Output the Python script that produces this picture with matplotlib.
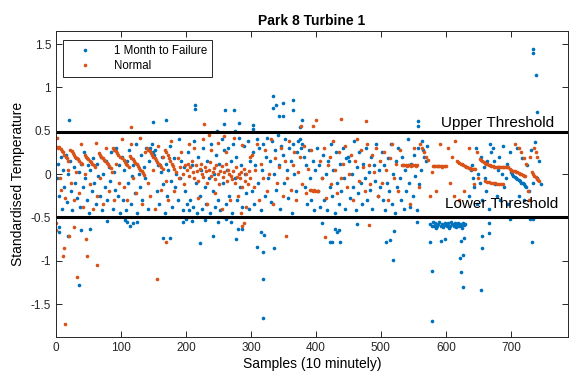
import matplotlib
matplotlib.use('Agg')
import matplotlib.pyplot as plt
import numpy as np

plt.rcParams['font.family'] = ['Liberation Sans', 'DejaVu Sans']

# Park 8 Turbine 1 - standardised temperature
# (sample index, value) pairs

# ---- "1 Month to Failure" (blue) ----
fail_0_100 = [(1, -0.05), (3, 0.12), (5, -0.25), (7, 0.2), (9, -0.4), (11, 0.05), (13, -0.15), (15, 0.22),
              (17, -0.32), (19, 0.0), (21, 0.15), (23, -0.2), (25, -0.42), (27, 0.08), (29, -0.1), (31, 0.18),
              (33, -0.28), (35, 0.02), (37, -0.38), (39, 0.12), (41, -0.15), (43, 0.25), (45, -0.05), (47, -0.3),
              (49, 0.1), (51, -0.45), (53, 0.05), (55, -0.2), (57, 0.18), (59, -0.1), (61, -0.35), (63, 0.12),
              (65, -0.02), (67, -0.25), (69, 0.2), (71, -0.42), (73, 0.0), (75, -0.15), (77, 0.15), (79, -0.3),
              (81, 0.08), (83, -0.08), (85, 0.25), (87, -0.4), (89, 0.02), (91, -0.18), (93, 0.3), (95, -0.25),
              (97, 0.1), (99, -0.45)]
fail_100_200 = [(101, 0.2), (103, -0.3), (105, 0.05), (107, -0.42), (109, 0.15), (111, -0.1), (113, 0.28),
                (115, -0.35), (117, -0.02), (119, 0.1), (121, -0.22), (123, 0.35), (125, -0.45), (127, 0.0),
                (129, -0.15), (131, 0.22), (133, -0.3), (135, 0.08), (137, -0.05), (139, 0.3), (141, -0.4),
                (143, 0.15), (145, 0.3), (147, 0.35), (149, 0.25), (151, 0.22), (153, 0.28), (155, -0.2),
                (157, 0.1), (159, -0.35), (161, 0.02), (163, 0.2), (165, -0.12), (167, -0.45), (169, 0.12),
                (171, -0.25), (173, 0.05), (175, 0.32), (177, -0.08), (179, -0.38), (181, 0.18), (183, -0.15),
                (185, 0.0), (187, -0.3), (189, 0.4), (191, -0.05), (193, 0.15), (195, -0.42), (197, 0.08),
                (199, -0.2)]
fail_200_300 = [(201, -0.35), (203, 0.25), (205, -0.42), (207, -0.3), (209, 0.1), (211, -0.38), (213, 0.38),
                (215, -0.1), (217, -0.45), (219, 0.2), (221, -0.25), (223, 0.05), (225, -0.4), (227, 0.3),
                (229, -0.15), (231, -0.35), (233, 0.15), (235, -0.05), (237, -0.45), (239, 0.35), (241, -0.2),
                (243, 0.0), (245, -0.38), (247, 0.22), (249, -0.3), (251, 0.12), (253, -0.42), (255, 0.4),
                (257, -0.1), (259, 0.28), (261, -0.35), (263, 0.05), (265, 0.3), (267, -0.25), (269, 0.15),
                (271, -0.45), (273, 0.35), (275, -0.05), (277, 0.2), (279, -0.3), (281, 0.42), (283, -0.15),
                (285, 0.1), (287, -0.38), (289, 0.32), (291, 0.0), (293, -0.22), (295, 0.38), (297, -0.4),
                (299, 0.15)]
fail_300_400 = [(301, -0.2), (303, 0.25), (305, -0.35), (307, 0.1), (309, 0.4), (311, -0.1), (313, 0.3),
                (315, -0.42), (317, 0.05), (319, 0.35), (321, -0.25), (323, 0.2), (325, 0.42), (327, -0.05),
                (329, 0.15), (331, -0.32), (333, 0.38), (335, 0.0), (337, 0.28), (339, -0.18), (341, 0.45),
                (343, 0.1), (345, -0.4), (347, 0.32), (349, 0.22), (351, -0.1), (353, 0.4), (355, 0.05),
                (357, -0.28), (359, 0.3), (361, 0.15), (363, -0.45), (365, 0.35), (367, 0.0), (369, -0.2),
                (371, 0.25), (373, 0.38), (375, 0.4), (377, 0.3), (379, 0.35), (381, 0.2), (383, -0.15),
                (385, 0.1), (387, -0.35), (389, 0.28), (391, -0.05), (393, -0.3), (395, 0.15), (397, -0.42),
                (399, 0.05)]
fail_400_500 = [(401, 0.3), (403, -0.2), (405, 0.1), (407, -0.38), (409, -0.05), (411, 0.22), (413, -0.3),
                (415, 0.0), (417, -0.42), (419, 0.15), (421, -0.15), (423, 0.35), (425, -0.25), (427, 0.05),
                (429, -0.45), (431, 0.25), (433, -0.1), (435, -0.35), (437, 0.12), (439, -0.2), (441, 0.3),
                (443, -0.05), (445, -0.4), (447, 0.18), (449, 0.2), (451, 0.15), (453, -0.28), (455, 0.0),
                (457, -0.15), (459, 0.38), (461, -0.42), (463, 0.08), (465, -0.22), (467, 0.25), (469, -0.1),
                (471, -0.35), (473, 0.12), (475, -0.05), (477, 0.3), (479, -0.3), (481, 0.02), (483, -0.18),
                (485, 0.2), (487, -0.4), (489, 0.1), (491, -0.08), (493, 0.35), (495, -0.25), (497, 0.05),
                (499, -0.15)]
fail_500_640 = [(501, 0.25), (503, -0.3), (505, 0.1), (507, -0.42), (509, -0.1), (511, 0.18), (513, -0.2),
                (515, 0.35), (517, -0.35), (519, 0.0), (521, -0.45), (523, 0.15), (525, -0.15), (527, 0.3),
                (529, -0.05), (531, -0.3), (533, 0.2), (535, -0.4), (537, 0.05), (539, -0.2), (541, 0.4),
                (543, -0.1), (545, -0.38), (547, 0.12), (549, -0.25), (551, 0.22), (553, -0.02), (555, -0.42),
                (557, 0.3), (559, -0.12), (561, 0.05), (563, 0.38), (565, 0.28), (567, 0.2), (569, 0.15),
                (571, 0.32), (576, -0.58), (578, -0.6), (580, -0.55), (582, -0.6), (584, -0.57), (586, -0.6),
                (588, -0.58), (590, -0.55), (592, -0.6), (594, -0.58), (596, -0.6), (598, -0.56), (600, -0.59),
                (602, -0.6), (604, -0.57), (606, -0.6), (608, -0.55), (610, -0.58), (612, -0.6), (614, -0.57),
                (616, -0.59), (618, -0.56), (620, -0.6), (622, -0.58), (624, -0.6), (626, -0.57), (628, -0.59),
                (630, -0.58), (585, -0.62), (595, -0.61), (605, -0.62), (615, -0.61), (625, -0.62)]
fail_640_750 = [(636, -0.25), (638, 0.05), (640, 0.1), (642, -0.05), (644, -0.15), (646, 0.3), (648, -0.35),
                (650, 0.0), (652, -0.1), (654, 0.2), (656, -0.3), (658, 0.08), (660, -0.05), (662, -0.2),
                (664, 0.15), (666, -0.4), (668, 0.35), (670, 0.25), (672, 0.3), (674, 0.15), (676, -0.12),
                (678, -0.25), (680, 0.05), (682, 0.2), (684, -0.3), (686, 0.0), (688, 0.32), (690, -0.15),
                (692, -0.05), (694, 0.12), (696, -0.35), (698, 0.25), (700, 0.02), (702, 0.0), (704, -0.02),
                (706, -0.03), (708, -0.05), (710, -0.06), (712, -0.07), (714, -0.08), (716, -0.1), (718, -0.1),
                (720, -0.12), (722, -0.14), (724, -0.15), (709, 0.3), (713, -0.25), (717, 0.18), (721, -0.3),
                (725, 0.1), (728, -0.2), (731, 0.28), (734, -0.1), (737, 0.37), (740, -0.05), (743, 0.15),
                (746, -0.12)]
fail_above = [(20, 0.62), (149, 0.60), (169, 0.62), (214, 0.80), (214, 0.75), (248, 0.50), (259, 0.58),
              (260, 0.74), (274, 0.74), (276, 0.50), (282, 0.59), (303, 0.56), (303, 0.52), (334, 0.90),
              (339, 0.80), (349, 0.82), (334, 0.76), (365, 0.85), (365, 0.74), (343, 0.67), (349, 0.67),
              (378, 0.62), (375, 0.54), (557, 0.61), (557, 0.55), (734, 1.44), (734, 1.40), (738, 1.14),
              (740, 0.71)]
fail_below = [(4, -0.61), (4, -0.67), (19, -0.71), (36, -1.28), (38, -0.64), (52, -0.63), (78, -0.54),
              (106, -0.53), (110, -0.55), (114, -0.60), (118, -0.57), (125, -0.55), (165, -0.74), (175, -0.74),
              (195, -0.55), (200, -0.52), (210, -0.54), (222, -0.80), (230, -0.53), (241, -0.72), (250, -0.55),
              (262, -0.52), (270, -0.55), (277, -0.75), (280, -0.63), (286, -0.63), (309, -0.84), (315, -0.67),
              (320, -0.70), (319, -0.90), (319, -1.21), (318, -1.66), (335, -0.85), (410, -0.57), (422, -0.78),
              (425, -0.78), (429, -0.63), (432, -0.67), (435, -0.65), (437, -0.78), (463, -0.58), (508, -0.78),
              (514, -0.76), (520, -0.66), (519, -0.99), (555, -0.55), (575, -0.78), (578, -1.12), (578, -1.70),
              (592, -0.77), (598, -0.75), (622, -0.97), (627, -0.93), (623, -0.77), (628, -0.74), (623, -1.13),
              (626, -1.30), (654, -1.34), (656, -0.85), (656, -0.72), (666, -0.68), (666, -0.56), (698, -0.52),
              (729, -0.52), (734, -0.52), (733, -0.78)]

# ---- "Normal" (orange) ----
norm_0_100 = [(1, 0.31), (3, 0.30), (5, 0.31), (7, 0.29), (9, 0.27), (11, 0.25), (13, 0.22), (15, 0.2),
              (17, 0.18), (19, 0.15), (22, 0.28), (24, 0.26), (26, 0.24), (28, 0.22), (30, 0.2), (32, 0.19),
              (34, 0.17), (36, 0.15), (38, 0.13), (40, 0.11), (44, 0.22), (46, 0.2), (48, 0.19), (50, 0.17),
              (52, 0.15), (54, 0.14), (56, 0.12), (58, 0.1), (60, 0.08), (66, 0.24), (68, 0.22), (70, 0.2),
              (72, 0.18), (74, 0.16), (76, 0.15), (78, 0.13), (80, 0.11), (82, 0.09), (84, 0.07), (88, 0.3),
              (90, 0.28), (92, 0.26), (94, 0.24), (96, 0.22), (98, 0.2), (2, 0.42), (6, -0.05), (8, -0.18),
              (14, -0.28), (18, 0.05), (23, -0.1), (27, -0.3), (31, 0.02), (35, -0.22), (39, 0.35), (42, -0.38),
              (45, 0.0), (53, -0.12), (57, -0.4), (61, 0.36), (63, -0.25), (67, -0.05), (73, -0.35), (77, 0.3),
              (81, -0.2), (86, 0.02), (89, -0.3), (93, 0.12), (97, -0.1)]
norm_100_200 = [(102, 0.18), (104, 0.16), (106, 0.14), (108, 0.12), (110, 0.1), (112, 0.08), (114, 0.21),
                (116, 0.19), (118, 0.17), (120, 0.15), (122, 0.13), (124, 0.11), (126, 0.09), (128, 0.07),
                (130, 0.05), (132, 0.03), (134, 0.01), (136, -0.01), (140, 0.3), (142, 0.28), (144, 0.26),
                (146, 0.24), (148, 0.22), (150, 0.2), (152, 0.18), (154, 0.16), (156, 0.14), (158, 0.12),
                (160, 0.1), (162, 0.08), (164, 0.06), (168, 0.28), (170, 0.25), (172, 0.22), (174, 0.18),
                (176, 0.15), (178, 0.12), (180, 0.09), (182, 0.06), (101, 0.4), (105, -0.15), (109, -0.3),
                (115, 0.35), (119, -0.05), (123, -0.22), (129, 0.42), (133, -0.35), (137, 0.25), (141, -0.1),
                (145, -0.25), (149, 0.05), (153, -0.4), (157, 0.32), (161, -0.18), (165, 0.2), (169, -0.08),
                (173, -0.3), (177, 0.38), (181, -0.2), (185, 0.02), (187, 0.18), (189, -0.05), (191, 0.08),
                (193, 0.25), (195, 0.0), (197, -0.12), (199, 0.1)]
norm_200_300 = [(201, 0.05), (203, 0.12), (205, -0.02), (207, 0.08), (209, 0.15), (211, 0.02), (213, -0.05),
                (215, 0.1), (217, 0.04), (219, -0.08), (221, 0.06), (223, 0.12), (225, 0.0), (227, -0.03),
                (229, 0.08), (231, 0.03), (233, -0.1), (235, 0.05), (237, 0.14), (239, -0.02), (241, 0.02),
                (243, 0.07), (245, -0.06), (247, 0.1), (249, 0.0), (251, -0.12), (253, 0.04), (255, 0.09),
                (257, -0.04), (259, 0.02), (261, 0.12), (263, -0.08), (265, 0.05), (267, 0.0), (269, -0.02),
                (271, -0.06), (273, 0.03), (275, -0.1), (277, 0.08), (279, -0.03), (281, 0.0), (283, -0.05),
                (285, 0.02), (287, -0.15), (289, 0.06), (291, -0.08), (293, 0.0), (295, -0.12), (297, 0.04),
                (299, -0.05), (204, 0.35), (212, 0.3), (218, -0.28), (226, 0.4), (232, -0.35), (238, 0.28),
                (244, -0.22), (250, 0.36), (256, -0.4), (262, 0.25), (268, -0.3), (274, 0.42), (280, -0.25),
                (286, 0.33), (292, -0.38), (298, 0.2), (236, 0.45), (258, 0.44), (284, -0.45)]
norm_300_400 = [(301, 0.22), (304, -0.15), (307, 0.05), (310, 0.35), (313, -0.3), (316, 0.12), (319, -0.05),
                (322, 0.28), (325, -0.2), (328, 0.0), (331, 0.4), (334, -0.35), (337, 0.18), (340, -0.1),
                (343, 0.08), (346, 0.3), (349, -0.25), (352, 0.15), (355, -0.05), (358, 0.38), (361, -0.18),
                (364, 0.1), (367, 0.25), (370, -0.3), (373, 0.02), (376, 0.2), (379, -0.12), (382, 0.32),
                (385, -0.22), (388, 0.06), (391, -0.18), (393, -0.18), (395, -0.19), (397, -0.18), (399, -0.2),
                (392, 0.28)]
norm_400_500 = [(402, -0.19), (404, -0.2), (406, 0.15), (409, -0.05), (412, 0.3), (415, -0.28), (418, 0.1),
                (421, 0.2), (424, -0.12), (427, 0.38), (430, 0.05), (433, -0.22), (436, 0.25), (439, -0.05),
                (442, 0.12), (445, 0.32), (448, -0.15), (451, 0.0), (454, 0.22), (457, -0.3), (460, 0.15),
                (463, 0.4), (466, -0.08), (469, 0.28), (472, 0.08), (475, -0.2), (478, 0.35), (481, 0.1),
                (484, -0.12), (487, 0.22), (490, 0.02), (493, 0.3), (496, -0.25), (499, 0.15)]
norm_500_600 = [(502, -0.1), (505, 0.25), (508, 0.05), (511, -0.3), (514, 0.18), (517, 0.35), (520, -0.05),
                (523, 0.12), (526, -0.2), (529, 0.28), (532, 0.1), (534, 0.1), (536, 0.1), (538, 0.1),
                (540, 0.09), (542, 0.1), (544, 0.1), (546, 0.09), (548, 0.1), (550, 0.1), (552, 0.1),
                (554, 0.09), (556, 0.1), (545, -0.35), (551, 0.3), (558, -0.15), (560, 0.35), (563, 0.3),
                (566, 0.25), (569, 0.2), (572, 0.16), (575, -0.25), (578, 0.02), (580, 0.09), (582, 0.09),
                (584, 0.09), (586, 0.09), (588, 0.09), (590, 0.09), (592, 0.09), (594, 0.08), (596, 0.09),
                (598, 0.09), (600, 0.09), (585, -0.2), (591, 0.35)]
norm_600_750 = [(603, 0.3), (606, -0.1), (609, 0.2), (612, -0.25), (614, 0.38), (617, 0.15), (619, 0.14),
                (621, 0.13), (623, 0.12), (625, 0.11), (627, 0.1), (629, 0.09), (631, 0.08), (633, 0.08),
                (635, 0.07), (637, 0.07), (639, 0.06), (641, 0.06), (643, 0.06), (645, 0.06), (620, -0.3),
                (628, -0.19), (636, 0.3), (644, -0.12), (648, 0.25), (650, -0.05), (652, 0.17), (654, 0.16),
                (656, 0.15), (658, 0.14), (660, 0.13), (662, 0.12), (664, 0.11), (666, 0.1), (668, 0.1),
                (670, 0.09), (672, 0.09), (674, 0.08), (676, 0.08), (678, 0.08), (680, 0.08), (682, 0.08),
                (684, 0.08), (686, 0.08), (688, 0.08), (690, 0.08), (692, 0.08), (694, 0.08), (696, 0.08),
                (661, -0.08), (664, -0.09), (667, -0.09), (670, -0.1), (673, -0.1), (676, -0.1), (679, -0.11),
                (682, -0.11), (685, -0.11), (688, -0.11), (698, 0.06), (700, 0.05), (702, 0.04), (704, 0.04),
                (706, 0.03), (708, 0.02), (710, 0.02), (712, 0.01), (714, 0.0), (716, 0.0), (718, -0.01),
                (720, -0.02), (722, -0.02), (707, 0.35), (712, 0.3), (716, 0.25), (720, 0.18), (724, 0.12),
                (726, -0.2), (728, -0.3), (730, 0.2), (732, 0.02), (734, 0.0), (736, -0.02), (738, -0.04),
                (740, -0.06), (742, -0.07), (744, -0.08), (735, 0.3), (738, 0.25), (741, 0.2)]
norm_above = [(115, 0.54), (228, 0.58), (377, 0.55), (395, 0.55), (400, 0.62), (438, 0.64), (477, 0.61)]
norm_below = [(0, -0.56), (0, -0.65), (11, -0.94), (12, -0.85), (14, -1.73), (20, -0.72), (28, -0.61),
              (32, -1.19), (46, -0.75), (48, -0.95), (63, -1.05), (169, -0.78), (155, -1.21), (287, -0.60),
              (290, -0.56), (354, -0.71), (414, -0.73), (481, -0.59)]

upper_thr = 0.48
lower_thr = -0.5

fail = np.array(fail_0_100 + fail_100_200 + fail_200_300 + fail_300_400 + fail_400_500
                + fail_500_640 + fail_640_750 + fail_above + fail_below)
norm = np.array(norm_0_100 + norm_100_200 + norm_200_300 + norm_300_400 + norm_400_500
                + norm_500_600 + norm_600_750 + norm_above + norm_below)

fig = plt.figure(figsize=(5.69, 3.78), dpi=100)
ax = fig.add_axes([56/569, 41/378, 512/569, 306/378])

ax.plot(fail[:, 0], fail[:, 1], '.', color='#0072BD', markersize=3.2, label='1 Month to Failure')
ax.plot(norm[:, 0], norm[:, 1], '.', color='#D95319', markersize=3.2, label='Normal')

ax.axhline(upper_thr, color='k', linewidth=2.2)
ax.axhline(lower_thr, color='k', linewidth=2.2)
ax.text(592, 0.59, 'Upper Threshold', fontsize=11, va='center', ha='left')
ax.text(598, -0.345, 'Lower Threshold', fontsize=11, va='center', ha='left')

ax.set_xlim(0, 788)
ax.set_ylim(-1.88, 1.65)
ax.set_xticks(range(0, 800, 100))
ax.set_yticks([-1.5, -1, -0.5, 0, 0.5, 1, 1.5])
ax.set_yticklabels(['-1.5', '-1', '-0.5', '0', '0.5', '1', '1.5'])
ax.tick_params(direction='in', top=True, right=True, labelsize=8.5, length=4,
               colors='#262626', width=0.7)
for s in ax.spines.values():
    s.set_color('#262626')
    s.set_linewidth(0.7)

ax.set_title('Park 8 Turbine 1', fontsize=10, fontweight='bold', pad=4)
ax.set_xlabel('Samples (10 minutely)', fontsize=10, labelpad=2)
ax.set_ylabel('Standardised Temperature', fontsize=10, labelpad=4)

leg = ax.legend(loc='upper left', bbox_to_anchor=(7/512, 1 - 9/306), borderaxespad=0,
                fontsize=8.3, numpoints=1, handlelength=3, handletextpad=1.0,
                fancybox=False, framealpha=1, labelspacing=0.3, borderpad=0.4)
leg.get_frame().set_edgecolor('#262626')
leg.get_frame().set_linewidth(0.7)

plt.savefig('out.png', dpi=100)
plt.close(fig)
